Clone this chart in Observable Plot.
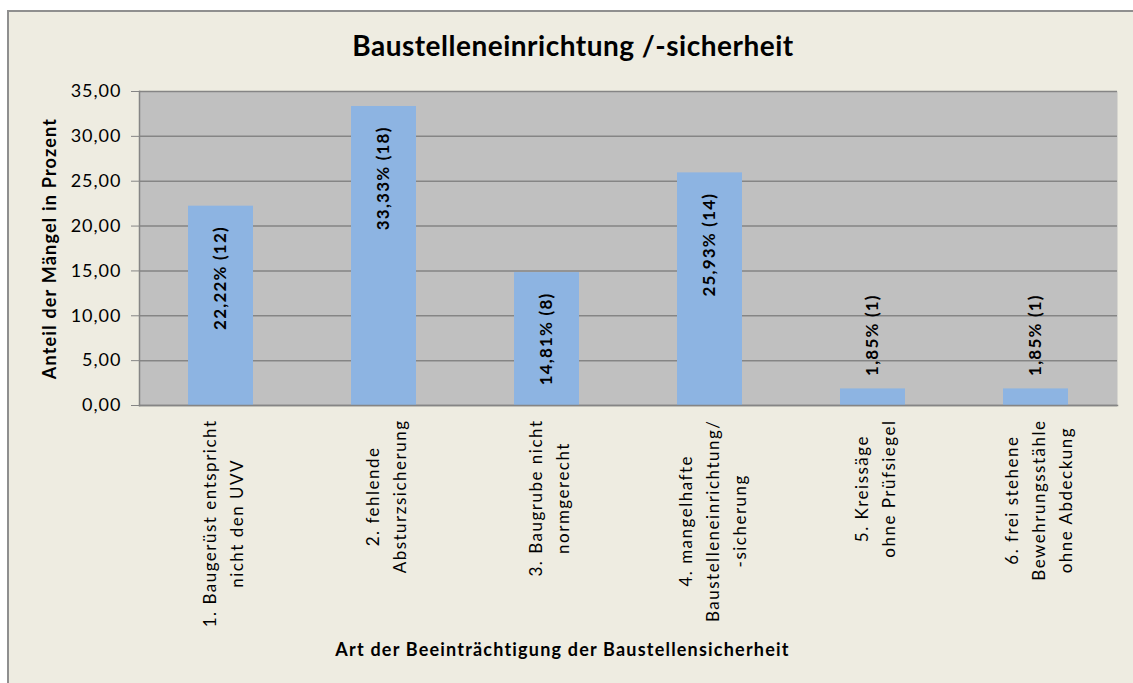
<!DOCTYPE html>
<html>
<head>
<meta charset="utf-8">
<script src="https://cdn.jsdelivr.net/npm/d3@7"></script>
<script src="https://cdn.jsdelivr.net/npm/@observablehq/plot@0.6"></script>
<style>
  html, body { margin: 0; padding: 0; background: #ffffff; }
  #wrap { position: relative; width: 1133px; height: 683px; overflow: hidden; background: #ffffff; }
  #frame { position: absolute; left: 7px; top: 10px; right: -20px; bottom: -20px; background: #EEECE1; border-left: 2px solid #8f8f8f; border-top: 2px solid #8f8f8f; }
  #title { position: absolute; left: 0; width: 1146px; top: 28px; text-align: center; font-family: Lato, "Open Sans", sans-serif; font-weight: bold; font-size: 28px; letter-spacing: 0.5px; color: #000; }
  #chart { position: absolute; left: 0; top: 0; }
</style>
</head>
<body>
<div id="wrap">
<div id="frame"></div>
<div id="title">Baustelleneinrichtung /-sicherheit</div>
<div id="chart"></div>
</div>
<script>
const categories = [
  "1. Baugerüst entspricht\nnicht den UVV",
  "2. fehlende\nAbsturzsicherung",
  "3. Baugrube nicht\nnormgerecht",
  "4. mangelhafte\nBaustelleneinrichtung/\n-sicherung",
  "5. Kreissäge\nohne Prüfsiegel",
  "6. frei stehene\nBewehrungsstähle\nohne Abdeckung"
];
const percents = [22.22, 33.33, 14.81, 25.93, 1.85, 1.85];
const counts = [12, 18, 8, 14, 1, 1];
const yTicks = [0, 5, 10, 15, 20, 25, 30, 35];
const xLabel = "Art der Beeinträchtigung der Baustellensicherheit";
const yLabel = "Anteil der Mängel in Prozent";

const fmt = v => v.toFixed(2).replace(".", ",");
const data = categories.map((c, i) => ({cat: c, pct: percents[i], n: counts[i], label: `${fmt(percents[i])}% (${counts[i]})`}));
const inside = data.filter(d => d.pct >= 5);
const outside = data.filter(d => d.pct < 5);

const font = 'Lato, "Open Sans", sans-serif';

const chart = Plot.plot({
  width: 1133,
  height: 683,
  marginLeft: 139,
  marginRight: 16,
  marginTop: 91,
  marginBottom: 278,
  style: {background: "transparent", fontFamily: font, color: "#000"},
  x: {domain: categories, paddingInner: 0.6, paddingOuter: 0.3},
  y: {domain: [0, 35]},
  marks: [
    Plot.frame({fill: "#C0C0C0", stroke: null}),
    Plot.gridY(yTicks, {stroke: "#858585", strokeOpacity: 1, strokeWidth: 1.5}),
    Plot.barY(data, {x: "cat", y: "pct", fill: "#8DB4E2"}),
    Plot.frame({anchor: "left", stroke: "#858585", strokeWidth: 1.5}),
    Plot.frame({anchor: "bottom", stroke: "#858585", strokeWidth: 1.5}),
    Plot.axisY(yTicks, {
      tickSize: 8, tickPadding: 10, stroke: "#858585", fontSize: 18,
      tickFormat: fmt,
      label: yLabel, labelAnchor: "center", labelOffset: 96, labelArrow: false
    }),
    Plot.axisX({
      tickSize: 0, tickRotate: -90, tickPadding: 14, fontSize: 17, lineHeight: 1.6,
      label: null
    }),
    Plot.text([xLabel], {frameAnchor: "bottom", dy: 245, dx: -66, fontSize: 18, fontWeight: "bold", fill: "#000", lineAnchor: "middle"}),
    Plot.text(inside, {x: "cat", y: "pct", text: "label", rotate: -90, textAnchor: "end", dy: 20, fontSize: 17, fontWeight: "bold", fill: "#000"}),
    Plot.text(outside, {x: "cat", y: "pct", text: "label", rotate: -90, textAnchor: "start", dy: -13, fontSize: 17, fontWeight: "bold", fill: "#000"})
  ]
});
document.getElementById("chart").appendChild(chart);

const svg = d3.select(chart);
svg.selectAll('g[aria-label="y-axis label"] text')
  .style("font-weight", "bold").style("font-size", "18px").style("letter-spacing", "1.2px");
svg.selectAll('g[aria-label="y-axis tick label"] text').style("letter-spacing", "1px");
svg.selectAll('g[aria-label="text"] text').style("letter-spacing", "1.2px");
svg.selectAll('g[aria-label="x-axis tick label"] text').style("letter-spacing", "1.5px");

// center the lines of each multi-line category label, keeping the block's end at the axis
svg.selectAll('g[aria-label="x-axis tick label"] text').each(function() {
  const spans = this.querySelectorAll("tspan");
  if (!spans.length) return;
  let L = 0;
  spans.forEach(s => { L = Math.max(L, s.getComputedTextLength()); });
  this.setAttribute("text-anchor", "middle");
  spans.forEach(s => s.setAttribute("x", -L / 2));
});
</script>
</body>
</html>
